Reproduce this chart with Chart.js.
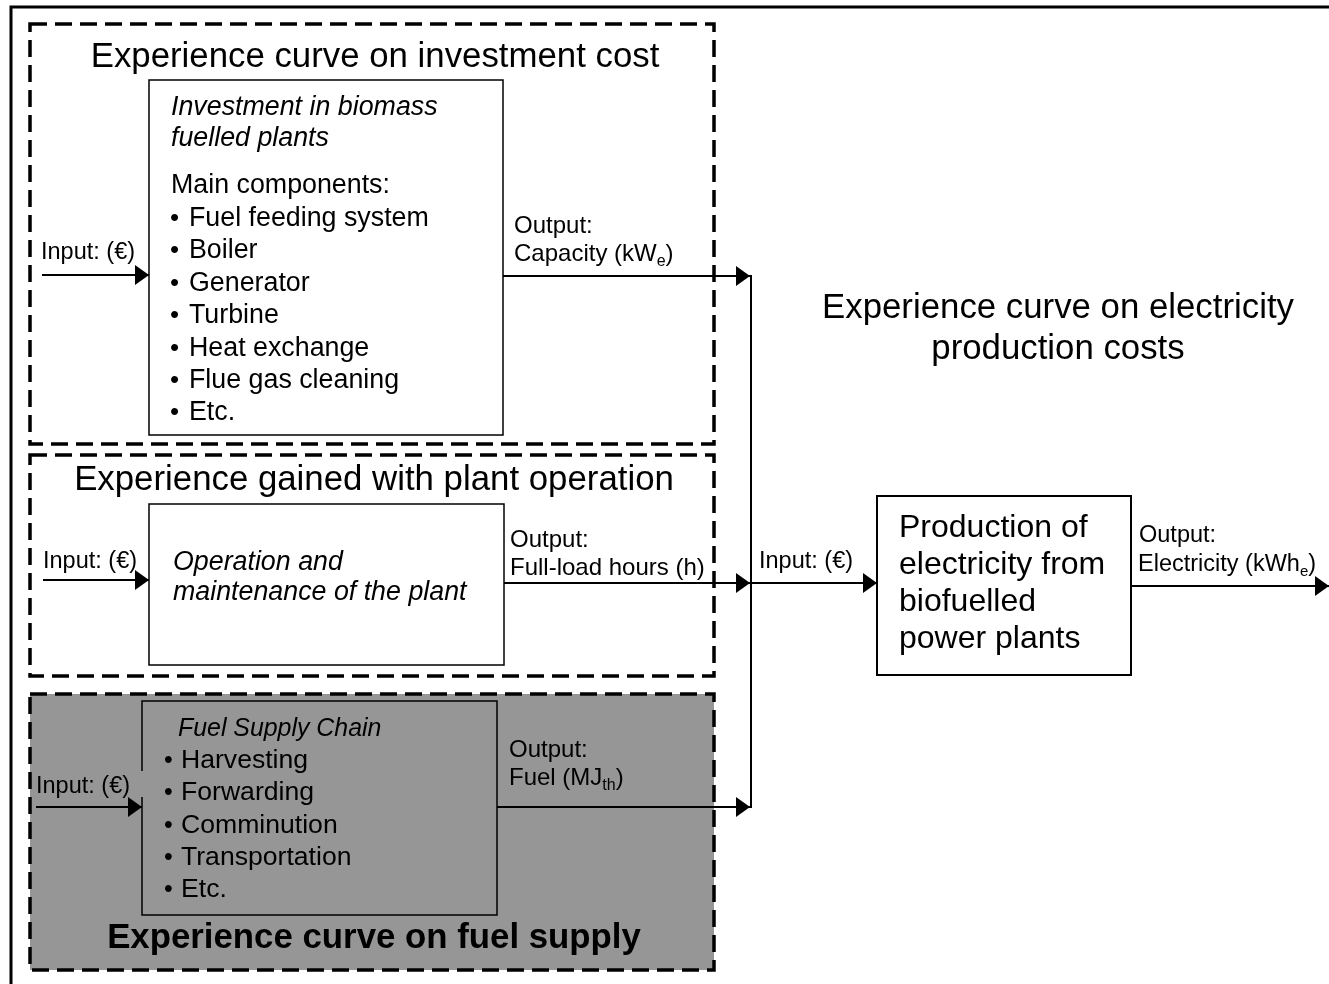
<!DOCTYPE html>
<html>
<head>
<meta charset="utf-8">
<script src="https://cdn.jsdelivr.net/npm/chart.js@4"></script>
<style>
  html, body { margin: 0; padding: 0; background: #fff; }
  #wrap { width: 1329px; height: 984px; }
</style>
</head>
<body>
<div id="wrap"><canvas id="flowChart" width="1329" height="984"></canvas></div>
<script>
// texts
const groupTitles = ['Experience curve on investment cost', 'Experience gained with plant operation', 'Experience curve on fuel supply'];
const investmentHeading = ['Investment in biomass', 'fuelled plants'];
const investmentParts = ['Fuel feeding system', 'Boiler', 'Generator', 'Turbine', 'Heat exchange', 'Flue gas cleaning', 'Etc.'];
const operationText = ['Operation and', 'maintenance of the plant'];
const fuelHeading = 'Fuel Supply Chain';
const fuelSteps = ['Harvesting', 'Forwarding', 'Comminution', 'Transportation', 'Etc.'];
const inputLabel = 'Input: (€)';
const outputLabels = [['Output:', 'Capacity (kW{e})'], ['Output:', 'Full-load hours (h)'], ['Output:', 'Fuel (MJ{th})']];
const productionText = ['Production of', 'electricity from', 'biofuelled', 'power plants'];
const finalOutput = ['Output:', 'Electricity (kWh{e})'];
const mainTitle = ['Experience curve on electricity', 'production costs'];

// diagram geometry in chart units (x0, y0, x1, y1)
const groupBoxes = [[30, 24, 714, 444], [30, 455, 714, 676], [30, 694, 714, 970]];
const innerBoxes = [[149, 80, 503, 435], [149, 504, 504, 665], [142, 701, 497, 915]];
const productionBox = [877, 496, 1131, 675];
const inputArrows = [[42, 275, 149, 275], [43, 580, 149, 580], [36, 807, 142, 807]];
const outputArrows = [[503, 276, 750, 276], [504, 583, 750, 583], [497, 807, 750, 807]];
const collectorLine = [751, 275, 751, 808];
const feedArrow = [751, 583, 877, 583];
const finalArrow = [1131, 586, 1329, 586];

const FONT = '"Liberation Sans", Arial, sans-serif';
const GREY = '#969696';

function seg(a, arrow) {
  return {
    data: [{ x: a[0], y: a[1] }, { x: a[2], y: a[3] }],
    showLine: true,
    borderColor: '#000',
    borderWidth: 2,
    pointRadius: 0,
    arrow: arrow
  };
}

const datasets = [];
inputArrows.forEach(a => datasets.push(seg(a, true)));
outputArrows.forEach(a => datasets.push(seg(a, true)));
datasets.push(seg(collectorLine, false));
datasets.push(seg(feedArrow, true));
datasets.push(seg(finalArrow, true));

// text with {sub} parts
function richText(ctx, str, x, y, size, style, align) {
  const parts = str.split(/(\{[^}]*\})/).filter(p => p.length);
  const main = (style || '') + ' ' + size + 'px ' + FONT;
  const small = (style || '') + ' ' + Math.round(size * 0.65) + 'px ' + FONT;
  let w = 0;
  parts.forEach(p => {
    ctx.font = p[0] === '{' ? small : main;
    w += ctx.measureText(p[0] === '{' ? p.slice(1, -1) : p).width;
  });
  let cx = align === 'center' ? x - w / 2 : x;
  ctx.textAlign = 'left';
  ctx.textBaseline = 'alphabetic';
  parts.forEach(p => {
    if (p[0] === '{') {
      ctx.font = small;
      const t = p.slice(1, -1);
      ctx.fillText(t, cx, y + size * 0.2);
      cx += ctx.measureText(t).width;
    } else {
      ctx.font = main;
      ctx.fillText(p, cx, y);
      cx += ctx.measureText(p).width;
    }
  });
}

const diagramPlugin = {
  id: 'diagram',
  beforeDatasetsDraw(chart) {
    const ctx = chart.ctx;
    const sx = v => chart.scales.x.getPixelForValue(v);
    const sy = v => chart.scales.y.getPixelForValue(v);
    const rect = (b) => [sx(b[0]), sy(b[1]), sx(b[2]) - sx(b[0]), sy(b[3]) - sy(b[1])];
    ctx.save();
    // outer frame
    ctx.strokeStyle = '#000';
    ctx.lineWidth = 3;
    ctx.strokeRect(sx(11), sy(7), sx(1340) - sx(11), sy(1000) - sy(7));
    // grey fuel group
    ctx.fillStyle = GREY;
    ctx.fillRect(...rect(groupBoxes[2]));
    // inner boxes
    ctx.lineWidth = 1.5;
    innerBoxes.forEach((b, i) => {
      if (i < 2) { ctx.fillStyle = '#fff'; ctx.fillRect(...rect(b)); }
      ctx.strokeRect(...rect(b));
    });
    ctx.fillStyle = '#fff';
    ctx.fillRect(...rect(productionBox));
    ctx.lineWidth = 2;
    ctx.strokeRect(...rect(productionBox));
    ctx.restore();
  },
  afterDatasetsDraw(chart) {
    const ctx = chart.ctx;
    const sx = v => chart.scales.x.getPixelForValue(v);
    const sy = v => chart.scales.y.getPixelForValue(v);
    ctx.save();
    // arrow heads
    ctx.fillStyle = '#000';
    chart.data.datasets.forEach((ds, i) => {
      if (!ds.arrow) return;
      const pts = chart.getDatasetMeta(i).data;
      const tip = pts[pts.length - 1];
      ctx.beginPath();
      ctx.moveTo(tip.x, tip.y);
      ctx.lineTo(tip.x - 14, tip.y - 10);
      ctx.lineTo(tip.x - 14, tip.y + 10);
      ctx.closePath();
      ctx.fill();
    });
    // dashed group boxes
    ctx.strokeStyle = '#000';
    ctx.lineWidth = 3.5;
    ctx.setLineDash([17, 8]);
    groupBoxes.forEach(b => {
      ctx.strokeRect(sx(b[0]), sy(b[1]), sx(b[2]) - sx(b[0]), sy(b[3]) - sy(b[1]));
    });
    ctx.setLineDash([]);

    ctx.fillStyle = '#000';
    // group titles
    richText(ctx, groupTitles[0], sx(375), sy(67), 34.8, '', 'center');
    richText(ctx, groupTitles[1], sx(374), sy(490), 34.8, '', 'center');
    richText(ctx, groupTitles[2], sx(374), sy(948), 34.8, 'bold', 'center');

    // investment box
    investmentHeading.forEach((t, i) => richText(ctx, t, sx(171), sy(115 + i * 31), 26.8, 'italic'));
    richText(ctx, 'Main components:', sx(171), sy(193), 26.8, '');
    investmentParts.forEach((t, i) => {
      richText(ctx, '\u2022', sx(170), sy(226 + i * 32.4), 26, '');
      richText(ctx, t, sx(189), sy(226 + i * 32.4), 26.8, '');
    });

    // operation box
    operationText.forEach((t, i) => richText(ctx, t, sx(173), sy(570 + i * 30), 26.8, 'italic'));

    // fuel chain box
    richText(ctx, fuelHeading, sx(178), sy(736), 24.9, 'italic');
    fuelSteps.forEach((t, i) => {
      richText(ctx, '\u2022', sx(164), sy(768 + i * 32.3), 25, '');
      richText(ctx, t, sx(181), sy(768 + i * 32.3), 26.6, '');
    });

    // input labels
    richText(ctx, inputLabel, sx(41), sy(259), 23.5, '');
    richText(ctx, inputLabel, sx(43), sy(568), 23.5, '');
    ctx.fillStyle = GREY;
    ctx.fillRect(sx(34), sy(771), sx(146) - sx(34), sy(797) - sy(771));
    ctx.fillStyle = '#000';
    richText(ctx, inputLabel, sx(36), sy(793), 23.5, '');
    richText(ctx, inputLabel, sx(759), sy(568), 23.5, '');

    // output labels
    const outPos = [[514, 233, 261], [510, 547, 575], [509, 757, 785]];
    outputLabels.forEach((lines, i) => {
      richText(ctx, lines[0], sx(outPos[i][0]), sy(outPos[i][1]), 24, '');
      richText(ctx, lines[1], sx(outPos[i][0]), sy(outPos[i][2]), 24, '');
    });
    richText(ctx, finalOutput[0], sx(1139), sy(542), 23.5, '');
    richText(ctx, finalOutput[1], sx(1138), sy(571), 23.5, '');

    // production box
    productionText.forEach((t, i) => richText(ctx, t, sx(899), sy(537 + i * 37), 32, ''));

    // main title
    mainTitle.forEach((t, i) => richText(ctx, t, sx(1058), sy(318 + i * 41), 34.8, '', 'center'));
    ctx.restore();
  }
};

new Chart(document.getElementById('flowChart').getContext('2d'), {
  type: 'scatter',
  data: { datasets: datasets },
  options: {
    responsive: false,
    animation: false,
    devicePixelRatio: 1,
    layout: { padding: 0 },
    plugins: { legend: { display: false }, tooltip: { enabled: false } },
    scales: {
      x: { type: 'linear', min: 0, max: 1329, display: false },
      y: { type: 'linear', min: 0, max: 984, reverse: true, display: false }
    }
  },
  plugins: [diagramPlugin]
});
</script>
</body>
</html>
